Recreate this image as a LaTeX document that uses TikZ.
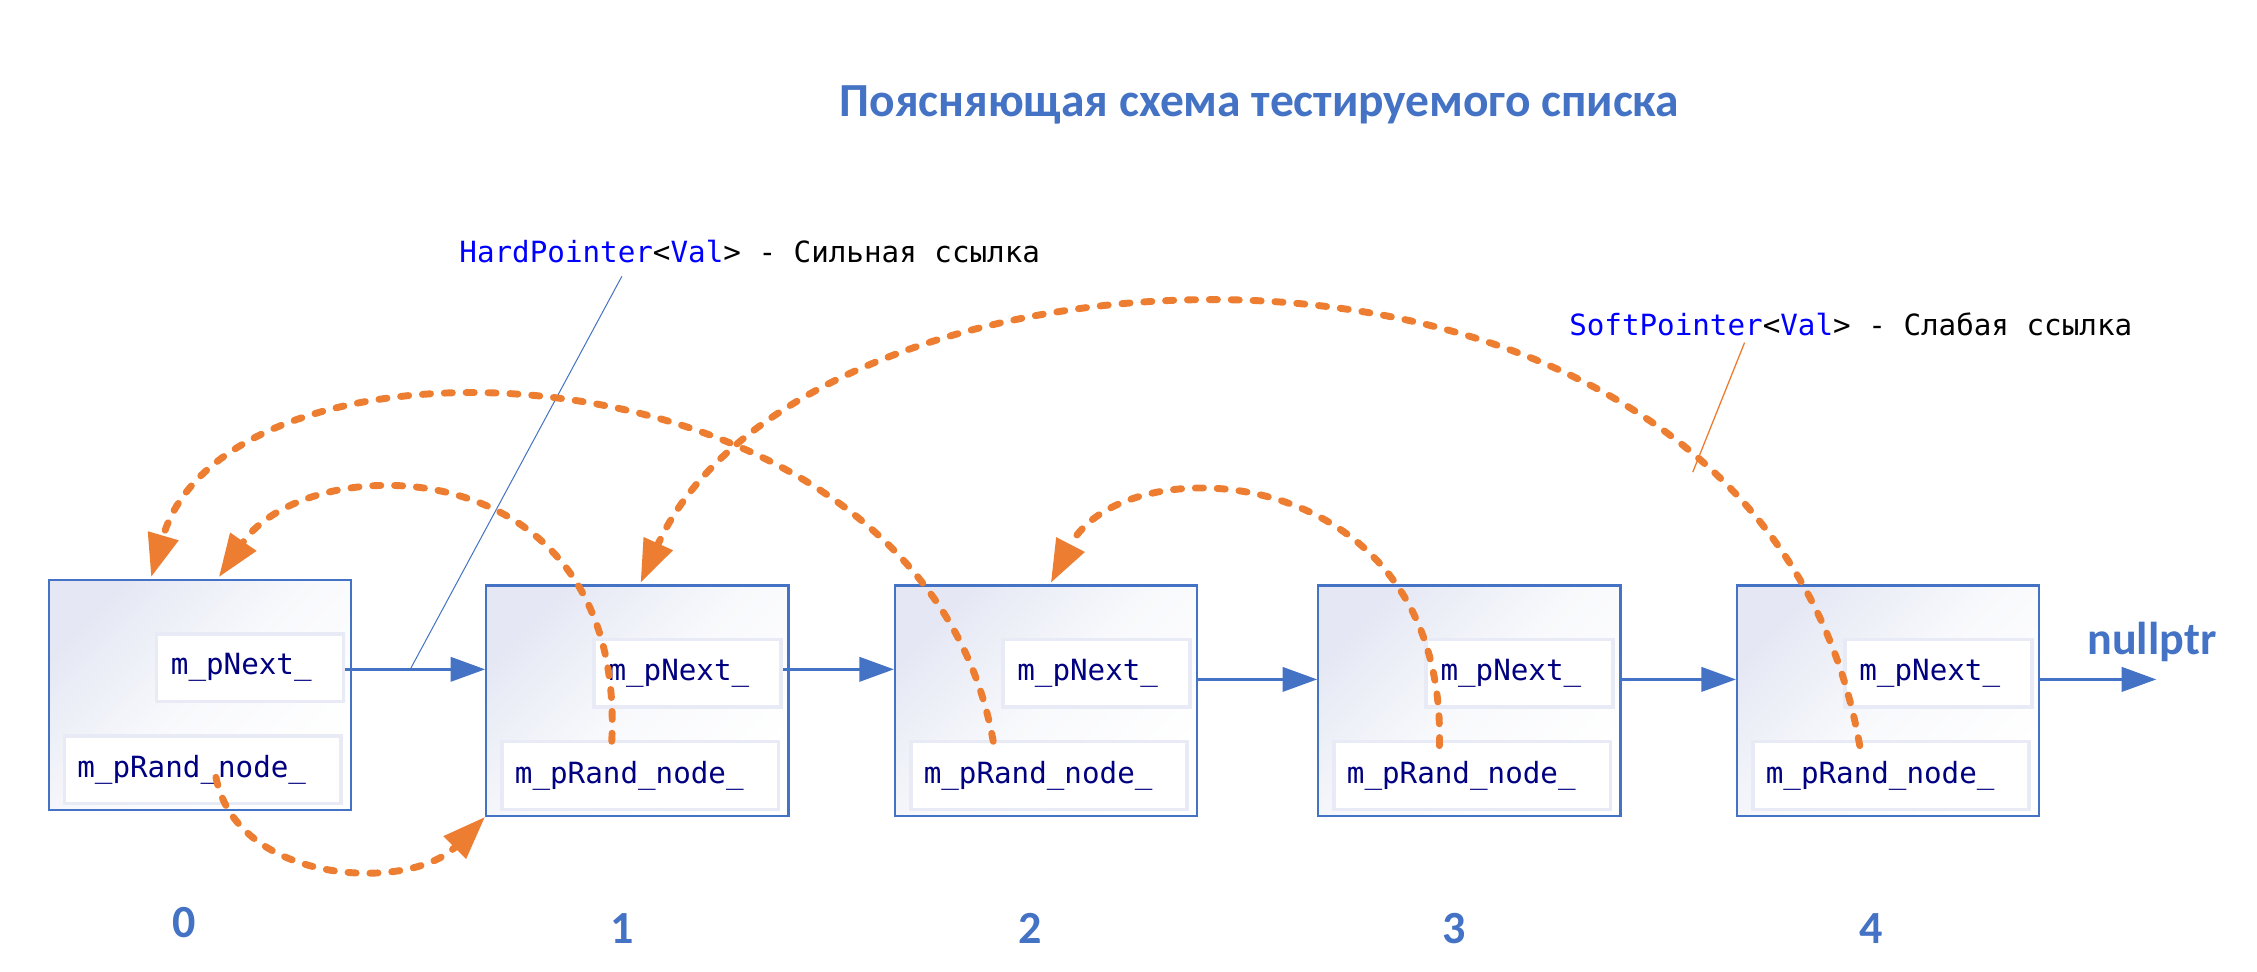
\documentclass[tikz,border=0pt]{standalone}
\usepackage{fontspec}
\setmainfont{Carlito}
\newfontfamily\monof{DejaVu Sans Mono}
\usetikzlibrary{arrows.meta,calc}
\definecolor{accblue}{HTML}{4472C4}
\definecolor{accorange}{HTML}{ED7D31}
\definecolor{navy}{RGB}{0,0,128}
\definecolor{kwblue}{RGB}{0,0,255}
\definecolor{lavender}{HTML}{E5E8F4}
\definecolor{innerline}{RGB}{232,235,245}
\begin{document}
\begin{tikzpicture}[x=1pt,y=-1pt,
  outerbox/.style={draw=accblue, line width=1.5pt, minimum width=210pt, minimum height=160pt,
    inner sep=0pt, top color=lavender, bottom color=white, middle color=lavender!25!white,
    shading angle=45, anchor=north west},
  inbox/.style={draw=innerline, line width=2.5pt, fill=white, minimum height=47pt,
    anchor=north west, align=left, text=navy, inner ysep=0pt,
    font=\monof\fontsize{20.3}{24}\selectfont},
  mono/.style={font=\monof\fontsize{20.3}{24}\selectfont, text=black, inner sep=0pt},
  numstyle/.style={font=\fontsize{32}{38}\selectfont\bfseries, text=accblue, inner sep=0pt},
  titlestyle/.style={font=\fontsize{33}{40}\selectfont\bfseries, text=accblue, inner sep=0pt},
  nextarrow/.style={draw=accblue, line width=1.7pt, -{Triangle[length=24pt,width=17pt]}},
  randarrow/.style={draw=accorange, line width=4.8pt, dash pattern=on 5.6pt off 9.6pt,
    line cap=round, -{Triangle[length=30pt,width=21pt]}},
  leader/.style={line width=0.7pt}
]
\useasboundingbox (0,0) rectangle (1568,675);
\fill[white] (0,0) rectangle (1568,675);

% title
\node[titlestyle] (title) at (875,73) {Поясняющая схема тестируемого списка};

% boxes
\foreach \i/\x/\y in {0/33/402,1/337/406,2/621/406,3/915/406,4/1206/406}{
  \node[outerbox] (b\i) at (\x,\y) {};
  \node[inbox, text width=110pt, inner xsep=10pt] (n\i) at ({\x+74.5},{\y+37}) {m\_pNext\_};
  \node[inbox, text width=174pt, inner xsep=9pt] (r\i) at ({\x+10.5},{\y+108}) {m\_pRand\_node\_};
}

% numbers
\node[numstyle] (lab0) at (128,641) {0};
\node[numstyle] (lab1) at (432,645) {1};
\node[numstyle] (lab2) at (716,645) {2};
\node[numstyle] (lab3) at (1010,645) {3};
\node[numstyle] (lab4) at (1300,645) {4};
\node[numstyle] (nul) at (1495,446) {nullptr};

% next arrows
\coordinate (ya) at (0,465);
\coordinate (yb) at (0,472);
\coordinate (nullend) at (1498,472);
\draw[nextarrow] (n0.east |- ya) -- (b1.west |- ya);
\draw[nextarrow] (n1.east |- ya) -- (b2.west |- ya);
\draw[nextarrow] (b2.east |- yb) -- (b3.west |- yb);
\draw[nextarrow] (b3.east |- yb) -- (b4.west |- yb);
\draw[nextarrow] (b4.east |- yb) -- (nullend);

% labels
\node[mono, anchor=west] (hard) at (319,175)
  {\textcolor{kwblue}{HardPointer}<\textcolor{kwblue}{Val}> - Сильная ссылка};
\node[mono, anchor=west] (soft) at (1090,225)
  {\textcolor{kwblue}{SoftPointer}<\textcolor{kwblue}{Val}> - Слабая ссылка};
\coordinate (hl1) at (432,192);
\coordinate (hl2) at (285,465);
\coordinate (sl1) at (1212,238);
\coordinate (sl2) at (1176,328);
\draw[leader, accblue] (hl1) -- (hl2);
\draw[leader, accorange, line width=0.9pt] (sl1) -- (sl2);

% random pointers
\coordinate (s0) at (150,540);
\coordinate (s1) at (425,515);
\coordinate (t1) at (152,401);
\coordinate (s2) at (690,515);
\coordinate (t2) at (105,401);
\coordinate (s3) at (1000,518);
\coordinate (t3) at (730,405);
\coordinate (s4) at (1292,518);
\coordinate (t4) at (445,405);
\draw[randarrow] (s0) .. controls (165,615) and (285,620) .. (b1.south west);
\draw[randarrow] (s1) .. controls (435,310) and (215,310) .. (t1);
\draw[randarrow] (s2) .. controls (640,233) and (160,213) .. (t2);
\draw[randarrow] (s3) .. controls (1005,318) and (780,308) .. (t3);
\draw[randarrow] (s4) .. controls (1220,110) and (560,150) .. (t4);
\end{tikzpicture}
\end{document}
